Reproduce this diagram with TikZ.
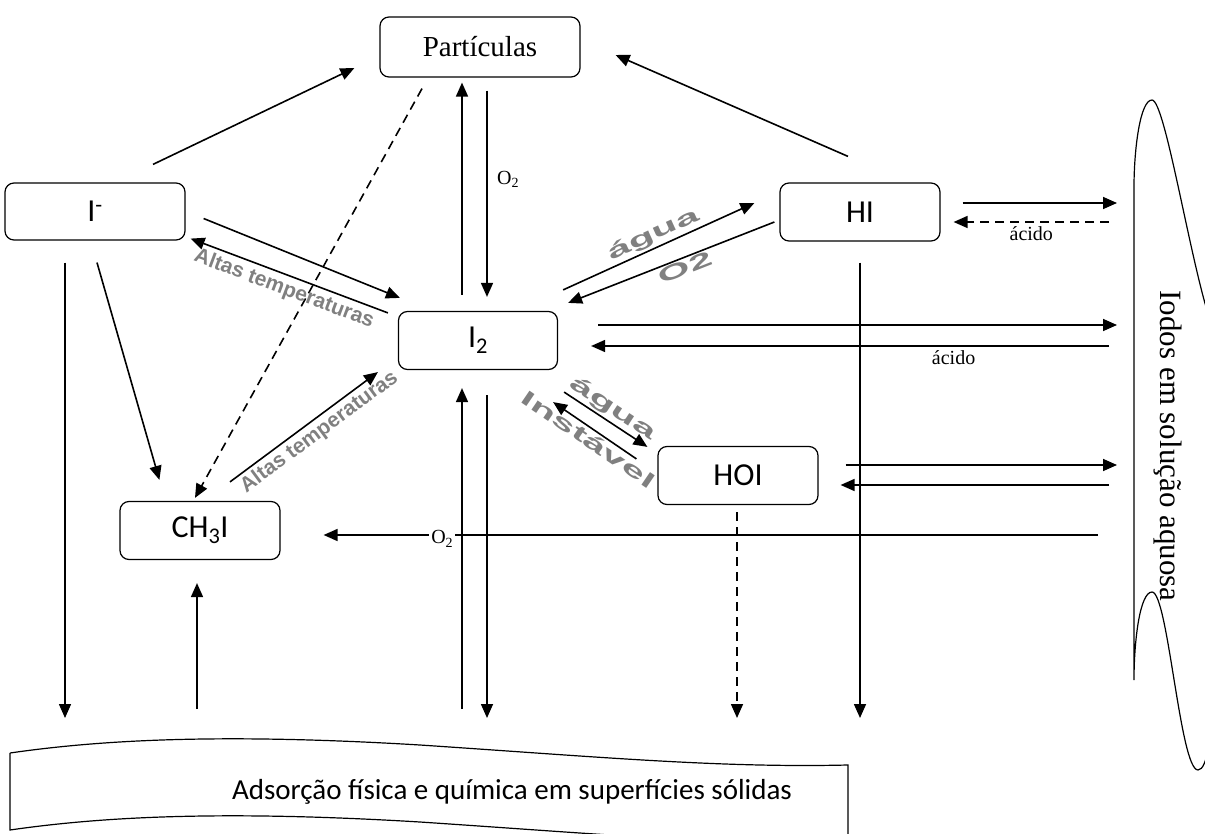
\documentclass[tikz,border=0pt]{standalone}
\usepackage{fontspec}
\setmainfont{Liberation Serif}
\newfontfamily\carlito{Carlito}
\newfontfamily\arialfont{Liberation Sans}
\usetikzlibrary{arrows.meta,calc}
\definecolor{wagray}{RGB}{128,128,128}

\tikzset{
  box/.style={draw, rounded corners=9pt, line width=1.2pt,
    minimum width=160pt, minimum height=58pt,
    font=\carlito\fontsize{32}{32}\selectfont},
  arr/.style={-{Triangle[length=14pt,width=12pt]}, line width=1.6pt},
  dsh/.style={arr, dash pattern=on 9pt off 6pt},
  lbl/.style={font=\fontsize{20}{20}\selectfont},
  wart/.style={font=\arialfont\bfseries\fontsize{21}{21}\selectfont, text=wagray, inner sep=1pt}
}

\begin{document}
\begin{tikzpicture}[x=1pt,y=-1pt]
\useasboundingbox (0,0) rectangle (1205,834);
\clip (0,0) rectangle (1205,834);

% species
\node[box, minimum width=200pt, minimum height=60pt, font=\fontsize{29}{29}\selectfont] (part) at (480,47) {Partículas};
\node[box, minimum width=180pt, minimum height=57pt] (iminus) at (95,211.5) {I\textsuperscript{-}};
\node[box] (hi) at (860,212) {HI};
\node[box, minimum width=159pt] (itwo) at (478,340.5) {I\textsubscript{2}};
\node[box] (hoi) at (738,475.5) {HOI};
\node[box] (ch3i) at (200,530.5) {CH\textsubscript{3}I};

% surfaces (bottom wave)
\draw[line width=1.2pt] (10,753) .. controls (100,740) and (220,733) .. (420,745)
  .. controls (600,757) and (720,768) .. (848,765) -- (848,845);
\draw[line width=1.2pt] (10,753) -- (10,830) .. controls (100,817) and (220,810) .. (420,822)
  .. controls (600,834) and (720,845) .. (848,842);
\node[font=\carlito\fontsize{29}{29}\selectfont] (ads) at (512,792) {Adsorção física e química em superfícies sólidas};

% aqueous solution (right wave)
\draw[line width=1.2pt] (1210,320) .. controls (1190,260) and (1165,100) .. (1152,100)
  .. controls (1140,100) and (1134,150) .. (1134,187) -- (1134,680)
  .. controls (1134,640) and (1140,592) .. (1152,592)
  .. controls (1168,592) and (1180,770) .. (1198,770)
  .. controls (1203,770) and (1206,760) .. (1208,750);
\node[rotate=-90, font=\fontsize{31}{31}\selectfont] (sol) at (1168,446) {Iodos em solução aquosa};

\coordinate (bandtop) at (0,718);
\coordinate (bandout) at (0,709);
\coordinate (solin) at (1117,0);
\coordinate (solout) at (1109,0);
\coordinate (solfar) at (1098,0);

% to particles
\draw[arr] ([shift={(58pt,18pt)}]iminus.north) -- ([shift={(-25pt,-21pt)}]part.west);
\draw[arr] ([shift={(-12pt,26pt)}]hi.north) -- ([shift={(35pt,-8pt)}]part.east);
\draw[dsh] ([shift={(-58pt,-11pt)}]part.south) -- ([shift={(-5pt,3pt)}]ch3i.north);
\draw[arr] ([shift={(-16pt,16pt)}]itwo.north) -- ([shift={(-18pt,-5pt)}]part.south);
\draw[arr] ([shift={(7pt,-13pt)}]part.south) -- node[lbl, right=6pt, pos=.43] {O\textsubscript{2}} ([shift={(9pt,14pt)}]itwo.north);

% I- <-> I2
\draw[arr] ([shift={(18pt,-7pt)}]iminus.east) -- ([shift={(2pt,13pt)}]itwo.north west);
\draw[arr] ([shift={(-10pt,-2pt)}]itwo.north west) -- node[wart, sloped, below=3pt] {Altas temperaturas} ([shift={(5pt,2pt)}]iminus.south east);

% I2 <-> HI
\draw[arr] ([shift={(5pt,21pt)}]itwo.north east) -- node[wart, sloped, above=1pt] {\scalebox{2}[1]{água}} ([shift={(-25pt,9pt)}]hi.west);
\draw[arr] ([shift={(-5pt,-10pt)}]hi.west) -- node[wart, sloped, below=1pt, pos=.45] {\scalebox{2}[1]{O2}} ([shift={(10pt,8pt)}]itwo.north east);

% I2 <-> HOI
\draw[arr] ([shift={(6pt,-22pt)}]itwo.south east) -- node[wart, sloped, above=1pt] {\scalebox{2}[1]{água}} ([shift={(-10pt,-1pt)}]hoi.north west);
\draw[arr] ([shift={(-21pt,-13pt)}]hoi.north west) -- node[wart, sloped, below=1pt] {\scalebox{2}[1]{Instável}} ([shift={(-5pt,-32pt)}]itwo.south east);

% CH3I -> I2
\draw[arr] ([shift={(30pt,19pt)}]ch3i.north) -- node[wart, sloped, below=2pt, pos=.55] {Altas temperaturas} ([shift={(-20pt,-2pt)}]itwo.south west);

% exchange with the solution
\coordinate (s1) at ([shift={(40pt,15.5pt)}]itwo.east);
\coordinate (s2) at ([shift={(33pt,-5.5pt)}]itwo.east);
\draw[arr] (s1) -- (s1 -| solin);
\draw[arr] (s2 -| solout) -- node[lbl, below, pos=.3] {ácido} (s2);
\coordinate (h1) at ([shift={(22pt,9pt)}]hi.east);
\coordinate (h2) at ([shift={(13pt,-10pt)}]hi.east);
\draw[arr] (h1) -- (h1 -| solin);
\draw[dsh] (h2 -| solout) -- node[lbl, below, pos=.5] {ácido} (h2);
\coordinate (o1) at ([shift={(27pt,10.5pt)}]hoi.east);
\coordinate (o2) at ([shift={(22pt,-9.5pt)}]hoi.east);
\draw[arr] (o1) -- (o1 -| solin);
\draw[arr] (o2 -| solout) -- (o2);
\coordinate (c1) at ([shift={(43pt,-4.5pt)}]ch3i.east);
\draw[arr] (c1 -| solfar) -- (c1);

% exchange with the surfaces
\draw[arr] ([shift={(-30pt,-22pt)}]iminus.south) coordinate (d1) -- (d1 |- bandtop);
\draw[arr] ([shift={(2pt,-22pt)}]iminus.south) -- ([shift={(40pt,21pt)}]ch3i.north west);
\coordinate (u1) at ([shift={(-3pt,-23pt)}]ch3i.south);
\draw[arr] (u1 |- bandout) -- (u1);
\coordinate (u2) at ([shift={(-16pt,-18pt)}]itwo.south);
\draw[arr] (u2 |- bandout) -- node[lbl, left=6pt, pos=.53, fill=white, inner sep=2pt] {O\textsubscript{2}} (u2);
\draw[arr] ([shift={(9pt,-25pt)}]itwo.south) coordinate (d2) -- (d2 |- bandtop);
\draw[dsh] ([shift={(-1pt,-7pt)}]hoi.south) coordinate (d3) -- (d3 |- bandtop);
\draw[arr] ([shift={(0pt,-21pt)}]hi.south) coordinate (d4) -- (d4 |- bandtop);
\end{tikzpicture}
\end{document}
